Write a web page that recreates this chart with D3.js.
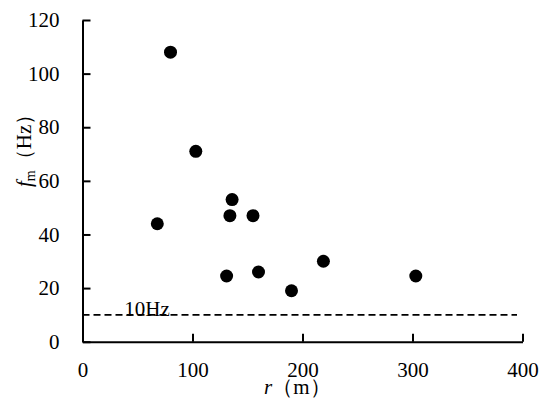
<!DOCTYPE html>
<html>
<head>
<meta charset="utf-8">
<script src="https://cdn.jsdelivr.net/npm/d3@7"></script>
<style>
  body { margin: 0; background: #fff; }
</style>
</head>
<body>
<svg id="chart" width="550" height="410"></svg>
<script>
// distance r (m) and dominant frequency fm (Hz)
const rValues = [80, 103, 136, 134, 155, 68, 131, 160, 190, 219, 303]
const fmValues = [108, 71, 53, 47, 47, 44, 24.5, 26, 19, 30, 24.5]
const xTicks = [0, 100, 200, 300, 400]
const yTicks = [0, 20, 40, 60, 80, 100, 120]
const limitHz = 10

const serif = '"Liberation Serif", "Times New Roman", serif'
const svg = d3.select('#chart')
const plotLeft = 82.5, plotRight = 522.5, plotTop = 20, plotBottom = 341.7

const x = d3.scaleLinear().domain([0, 400]).range([plotLeft, plotRight])
const y = d3.scaleLinear().domain([0, 120]).range([plotBottom, plotTop])

// x axis
const xAxis = svg.append('g')
    .attr('transform', `translate(0,${plotBottom})`)
    .call(d3.axisBottom(x).tickValues(xTicks).tickSize(-8).tickPadding(20).tickSizeOuter(0))
xAxis.select('.domain').attr('stroke', '#000').attr('stroke-width', 2)
xAxis.selectAll('.tick line').attr('stroke', '#000').attr('stroke-width', 2)
xAxis.selectAll('.tick text')
    .style('font-size', '21px')
    .style('font-family', serif)
    .attr('fill', '#000')

// y axis
const yAxis = svg.append('g')
    .attr('transform', `translate(${plotLeft},0)`)
    .call(d3.axisLeft(y).tickValues(yTicks).tickSize(-8).tickPadding(23).tickSizeOuter(0))
yAxis.select('.domain').attr('stroke', '#000').attr('stroke-width', 2)
yAxis.selectAll('.tick line').attr('stroke', '#000').attr('stroke-width', 2)
yAxis.selectAll('.tick text')
    .style('font-size', '21px')
    .style('font-family', serif)
    .attr('fill', '#000')

// 10 Hz threshold
svg.append('line')
    .attr('x1', x(0)).attr('x2', x(395))
    .attr('y1', y(limitHz)).attr('y2', y(limitHz))
    .attr('stroke', '#000')
    .attr('stroke-width', 1.8)
    .attr('stroke-dasharray', '7,4')

svg.append('text')
    .attr('x', x(38))
    .attr('y', y(limitHz) + 1)
    .style('font-size', '21px')
    .style('font-family', serif)
    .text(limitHz + 'Hz')

// points
svg.append('g')
    .selectAll('circle')
    .data(rValues.map((r, i) => ({r: r, fm: fmValues[i]})))
    .join('circle')
    .attr('cx', d => x(d.r))
    .attr('cy', d => y(d.fm))
    .attr('r', 6.5)
    .attr('fill', '#000')

// axis titles
const xTitle = svg.append('text')
    .attr('x', 264)
    .attr('y', 394)
    .style('font-size', '21px')
    .style('font-family', serif)
xTitle.append('tspan').style('font-style', 'italic').text('r')
xTitle.append('tspan').text('（m）')

const yTitle = svg.append('text')
    .attr('transform', 'translate(31,187) rotate(-90)')
    .style('font-size', '21px')
    .style('font-family', serif)
yTitle.append('tspan').style('font-style', 'italic').text('f')
yTitle.append('tspan').style('font-size', '14px').attr('dy', 4).text('m')
yTitle.append('tspan').attr('dy', -4).text('（Hz）')
</script>
</body>
</html>
